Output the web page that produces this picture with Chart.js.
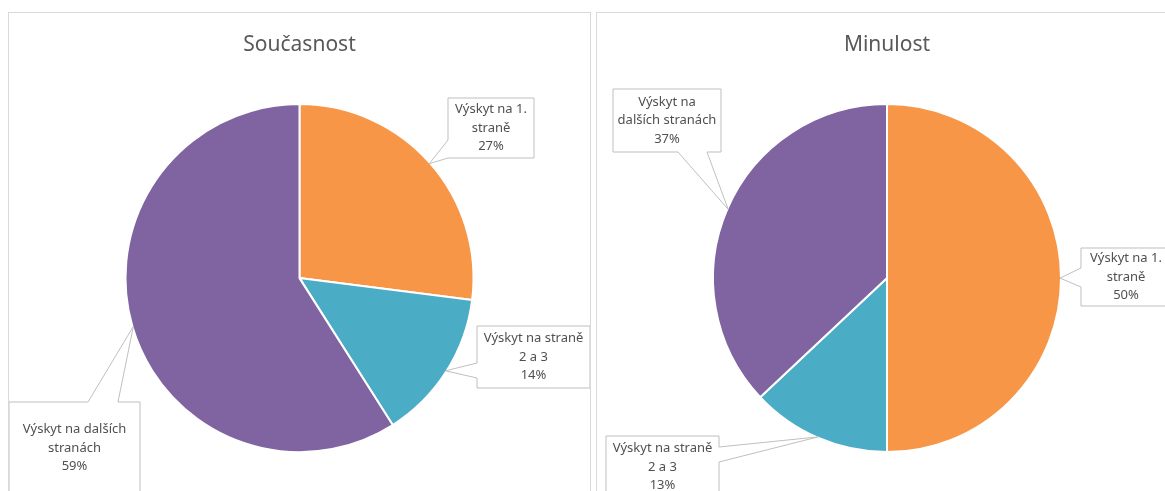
<!DOCTYPE html>
<html>
<head>
<meta charset="utf-8">
<script src="https://cdn.jsdelivr.net/npm/chart.js@4.4.1/dist/chart.umd.min.js"></script>
<style>
    body { margin: 0; background: #ffffff; overflow: hidden; }
    .panel { position: absolute; top: 12px; height: 488px; border: 1px solid #d9d9d9; background: #fff; }
    #leftPanel { left: 8px; width: 581px; }
    #rightPanel { left: 596px; width: 578px; }
</style>
</head>
<body>
<div class="panel" id="leftPanel"><canvas id="presentChart"></canvas></div>
<div class="panel" id="rightPanel"><canvas id="pastChart"></canvas></div>
<script>
// data
const categories = ["Výskyt na 1. straně", "Výskyt na straně 2 a 3", "Výskyt na dalších stranách"];
const presentValues = [27, 14, 59];
const pastValues = [50, 13, 37];
const titles = ["Současnost", "Minulost"];
const sliceColors = ["#F79646", "#4BACC6", "#8064A2"];

// how each category name is broken into lines in the callouts
const presentLines = [["Výskyt na 1.", "straně"], ["Výskyt na straně", "2 a 3"], ["Výskyt na dalších", "stranách"]];
const pastLines = [["Výskyt na 1.", "straně"], ["Výskyt na straně", "2 a 3"], ["Výskyt na", "dalších stranách"]];

// callout boxes (canvas coords), side of the pointer and where it leaves the box
const presentCallouts = [
    { x: 439, y: 85, w: 86, h: 60, side: "left", b1: 42, b2: 60 },
    { x: 468, y: 313, w: 113, h: 62, side: "left", b1: 37, b2: 52 },
    { x: 0, y: 389, w: 131, h: 92, side: "top", b1: 79, b2: 109 }
];
const pastCallouts = [
    { x: 484, y: 235, w: 90, h: 58, side: "left", b1: 20, b2: 39 },
    { x: 9, y: 423, w: 113, h: 62, side: "right", b1: 11, b2: 26 },
    { x: 16, y: 76, w: 108, h: 63, side: "bottom", b1: 65, b2: 94 }
];

const calloutPlugin = {
    id: "callouts",
    afterDatasetsDraw(chart, args, opts) {
        const ctx = chart.ctx;
        const meta = chart.getDatasetMeta(0);
        const values = chart.data.datasets[0].data;
        meta.data.forEach(function(arc, i) {
            const p = arc.getProps(["x", "y", "startAngle", "endAngle", "outerRadius"], true);
            const mid = (p.startAngle + p.endAngle) / 2;
            const tx = p.x + Math.cos(mid) * (p.outerRadius - 1);
            const ty = p.y + Math.sin(mid) * (p.outerRadius - 1);
            const c = opts.boxes[i];
            const x = c.x, y = c.y, w = c.w, h = c.h;

            ctx.save();
            ctx.beginPath();
            if (c.side === "left") {
                ctx.moveTo(x, y); ctx.lineTo(x + w, y); ctx.lineTo(x + w, y + h); ctx.lineTo(x, y + h);
                ctx.lineTo(x, y + c.b2); ctx.lineTo(tx, ty); ctx.lineTo(x, y + c.b1);
            } else if (c.side === "right") {
                ctx.moveTo(x, y); ctx.lineTo(x + w, y); ctx.lineTo(x + w, y + c.b1); ctx.lineTo(tx, ty);
                ctx.lineTo(x + w, y + c.b2); ctx.lineTo(x + w, y + h); ctx.lineTo(x, y + h);
            } else if (c.side === "top") {
                ctx.moveTo(x, y); ctx.lineTo(x + c.b1, y); ctx.lineTo(tx, ty); ctx.lineTo(x + c.b2, y);
                ctx.lineTo(x + w, y); ctx.lineTo(x + w, y + h); ctx.lineTo(x, y + h);
            } else {
                ctx.moveTo(x, y); ctx.lineTo(x + w, y); ctx.lineTo(x + w, y + h); ctx.lineTo(x + c.b2, y + h);
                ctx.lineTo(tx, ty); ctx.lineTo(x + c.b1, y + h); ctx.lineTo(x, y + h);
            }
            ctx.closePath();
            ctx.fillStyle = "#ffffff";
            ctx.fill();
            ctx.strokeStyle = "#bfbfbf";
            ctx.lineWidth = 1;
            ctx.stroke();

            const lines = opts.lines[i].concat([values[i] + "%"]);
            const lh = 18.5;
            ctx.fillStyle = "#505050";
            ctx.font = "13px 'Noto Sans'";
            ctx.textAlign = "center";
            ctx.textBaseline = "middle";
            const top = y + h / 2 - (lines.length - 1) * lh / 2;
            lines.forEach(function(t, k) {
                ctx.fillText(t, x + w / 2, top + k * lh);
            });
            ctx.restore();
        });
    }
};

function makePie(canvasId, title, values, lines, boxes, padLeft) {
    const ctx = document.getElementById(canvasId).getContext("2d");
    return new Chart(ctx, {
        type: "pie",
        data: {
            labels: categories,
            datasets: [{
                data: values,
                backgroundColor: sliceColors,
                borderColor: "#ffffff",
                borderWidth: 2
            }]
        },
        options: {
            responsive: true,
            maintainAspectRatio: false,
            animation: false,
            radius: 174,
            layout: { padding: { top: 0, bottom: 12, left: padLeft, right: 0 } },
            plugins: {
                legend: { display: false },
                tooltip: { enabled: false },
                title: {
                    display: true,
                    text: title,
                    color: "#595959",
                    font: { family: "'Noto Sans'", size: 21, weight: "normal", lineHeight: 1.2 },
                    padding: { top: 19, bottom: 10 }
                },
                callouts: { lines: lines, boxes: boxes }
            }
        },
        plugins: [calloutPlugin]
    });
}

makePie("presentChart", titles[0], presentValues, presentLines, presentCallouts, 0);
makePie("pastChart", titles[1], pastValues, pastLines, pastCallouts, 2);
</script>
</body>
</html>
